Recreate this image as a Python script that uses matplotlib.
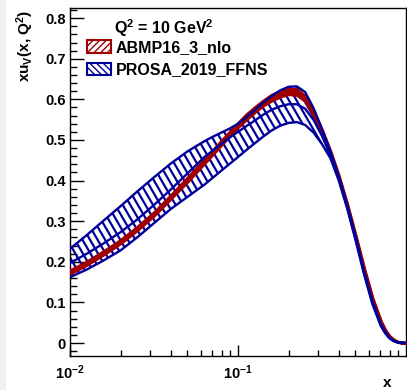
import numpy as np
import matplotlib
matplotlib.use("Agg")
import matplotlib.pyplot as plt
from matplotlib.patches import Polygon, Patch, Rectangle
from matplotlib.collections import LineCollection

plt.rcParams['font.family'] = ['Liberation Sans', 'DejaVu Sans']
plt.rcParams['font.weight'] = 'bold'
plt.rcParams['axes.labelweight'] = 'bold'
plt.rcParams['mathtext.fontset'] = 'custom'
plt.rcParams['mathtext.rm'] = 'Liberation Sans:bold'
plt.rcParams['mathtext.it'] = 'Liberation Sans:bold'
plt.rcParams['mathtext.bf'] = 'Liberation Sans:bold'
plt.rcParams['mathtext.default'] = 'rm'

# x points (read at steps in log10 x)
x = [0.01, 0.0126, 0.0158, 0.02, 0.0251, 0.0316, 0.0398, 0.0501, 0.0631, 0.0708, 0.0794, 0.0891,
     0.1, 0.112, 0.126, 0.141, 0.158, 0.178, 0.2, 0.224, 0.251, 0.282, 0.316, 0.355, 0.398,
     0.447, 0.501, 0.562, 0.631, 0.708, 0.75, 0.794, 0.841, 0.891, 0.944, 1.0]

# ABMP16_3_nlo
abmp_mid = [0.175, 0.197, 0.222, 0.25, 0.282, 0.318, 0.36, 0.403, 0.448, 0.47, 0.493, 0.515,
            0.537, 0.557, 0.575, 0.591, 0.604, 0.614, 0.62, 0.618, 0.602, 0.566, 0.52, 0.468, 0.408,
            0.338, 0.262, 0.182, 0.109, 0.052, 0.032, 0.017, 0.008, 0.003, 0.001, 0.0]
abmp_err = [0.004, 0.004, 0.004, 0.004, 0.004, 0.004, 0.004, 0.005, 0.005, 0.005, 0.005, 0.005,
            0.005, 0.006, 0.006, 0.006, 0.007, 0.007, 0.007, 0.007, 0.006, 0.005, 0.005, 0.004, 0.004,
            0.003, 0.003, 0.003, 0.002, 0.002, 0.001, 0.001, 0.001, 0.0005, 0.0, 0.0]

# PROSA_2019_FFNS
prosa_mid = [0.197, 0.22, 0.245, 0.273, 0.304, 0.34, 0.378, 0.418, 0.458, 0.474, 0.49, 0.506,
             0.52, 0.534, 0.548, 0.562, 0.574, 0.583, 0.588, 0.588, 0.577, 0.549, 0.51, 0.463, 0.405,
             0.335, 0.257, 0.174, 0.099, 0.044, 0.026, 0.013, 0.0055, 0.0018, 0.0004, 0.0]
prosa_hi = [0.232, 0.266, 0.301, 0.337, 0.373, 0.408, 0.442, 0.472, 0.497, 0.508, 0.518, 0.528,
            0.54, 0.556, 0.574, 0.592, 0.608, 0.622, 0.631, 0.632, 0.618, 0.578, 0.527, 0.472, 0.41,
            0.34, 0.262, 0.178, 0.103, 0.047, 0.028, 0.014, 0.006, 0.002, 0.0005, 0.0]
prosa_lo = [0.162, 0.181, 0.203, 0.228, 0.26, 0.295, 0.33, 0.36, 0.39, 0.407, 0.424, 0.441,
            0.458, 0.475, 0.492, 0.508, 0.523, 0.535, 0.542, 0.544, 0.537, 0.518, 0.49, 0.455, 0.4,
            0.331, 0.253, 0.17, 0.096, 0.042, 0.025, 0.012, 0.005, 0.0015, 0.0003, 0.0]

yticks = [0, 0.1, 0.2, 0.3, 0.4, 0.5, 0.6, 0.7, 0.8]
ylabels = ['0', '0.1', '0.2', '0.3', '0.4', '0.5', '0.6', '0.7', '0.8']
xticks = [0.01, 0.1]
xlabels = ['10$^{-2}$', '10$^{-1}$']

red = '#a00000'
blue = '#00009a'

fig = plt.figure(figsize=(4.07, 3.90), dpi=100)
fig.patches.append(Rectangle((0, 0), 6 / 407, 1, transform=fig.transFigure,
                             facecolor='#efefef', edgecolor='none', zorder=-5))
ax = fig.add_axes([70 / 407, 1 - 356 / 390, 336 / 407, 348 / 390])

xa = np.array(x)
hi = np.array(prosa_hi)
lo = np.array(prosa_lo)

# blue hatched band (hatch lines clipped to the band)
clip = Polygon(np.column_stack([np.r_[xa, xa[::-1]], np.r_[lo, hi[::-1]]]),
               closed=True, transform=ax.transData, facecolor='none', edgecolor='none')
ax.add_patch(clip)
segs = [[(c, 1.0), (c + 0.6, 0.0)] for c in np.arange(-0.7, 1.05, 0.0225)]
hatch = LineCollection(segs, colors=blue, linewidths=1.6, transform=ax.transAxes, zorder=2)
ax.add_collection(hatch)
hatch.set_clip_path(clip)

# red band
am = np.array(abmp_mid)
ae = np.array(abmp_err)
ax.fill_between(xa, am - ae, am + ae, facecolor=red, edgecolor=red, lw=2.2, zorder=3)

# blue lines
ax.plot(xa, hi, color=blue, lw=1.7, zorder=4)
ax.plot(xa, lo, color=blue, lw=1.7, zorder=4)
ax.plot(xa, prosa_mid, color=blue, lw=1.7, zorder=4)

ax.set_xscale('log')
ax.set_xlim(0.01, 1.0)
ax.set_ylim(-0.032, 0.825)

ax.set_yticks(yticks)
ax.set_yticklabels(ylabels)
ax.set_yticks(np.arange(-0.02, 0.825, 0.02), minor=True)
ax.set_xticks(xticks)
ax.set_xticklabels(xlabels)
ax.xaxis.set_minor_locator(matplotlib.ticker.LogLocator(subs=np.arange(2, 10)))
ax.xaxis.set_minor_formatter(matplotlib.ticker.NullFormatter())
ax.tick_params(axis='both', which='both', direction='in', top=False, right=False, width=1.0)
ax.tick_params(axis='y', which='major', length=10, labelsize=10.5, pad=3)
ax.tick_params(axis='y', which='minor', length=5)
ax.tick_params(axis='x', which='major', length=8, labelsize=10.5, pad=5)
ax.tick_params(axis='x', which='minor', length=4)
for s in ax.spines.values():
    s.set_linewidth(1.0)

ax.set_ylabel('xu$_V$(x, Q$^2$)', fontsize=11)
ax.yaxis.set_label_coords((25 - 70) / 336, (356 - 10) / 348)
ax.yaxis.label.set_va('center')
ax.yaxis.label.set_ha('right')
ax.set_xlabel('x', fontsize=11)
ax.xaxis.set_label_coords((387 - 70) / 336, (356 - 383) / 348)
ax.xaxis.label.set_ha('center')
ax.xaxis.label.set_va('center')

ax.text((114 - 70) / 336, (356 - 28) / 348, 'Q$^2$ = 10 GeV$^2$', transform=ax.transAxes,
        ha='left', va='center', fontsize=11.5)
handles = [Patch(facecolor='white', edgecolor=red, hatch='/////', lw=1.5),
           Patch(facecolor='white', edgecolor=blue, hatch='\\\\\\\\\\', lw=1.5)]
labels = ['ABMP16_3_nlo', 'PROSA_2019_FFNS']
ax.legend(handles, labels, loc='upper left', bbox_to_anchor=((87 - 70) / 336, (356 - 40) / 348),
          frameon=False, borderpad=0, borderaxespad=0, handlelength=1.5, handleheight=0.8,
          handletextpad=0.3, labelspacing=0.45, fontsize=11.5)

fig.savefig('out.png', dpi=100)
